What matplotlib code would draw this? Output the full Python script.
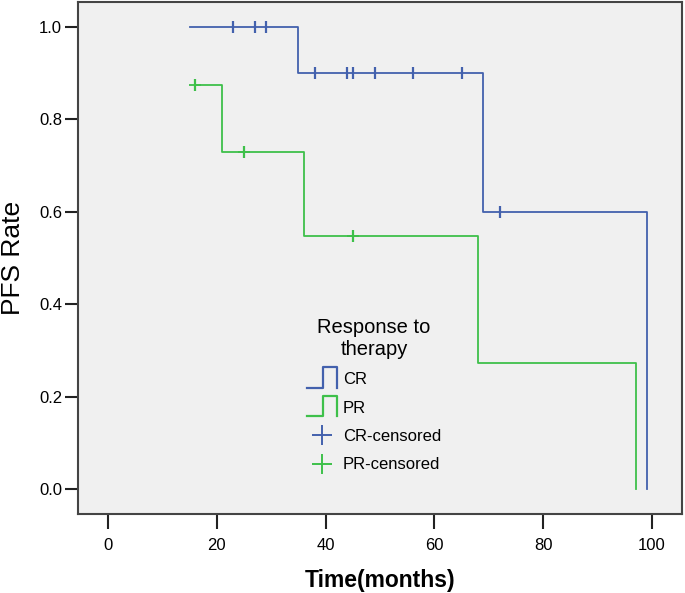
import matplotlib
matplotlib.use("Agg")
import matplotlib.pyplot as plt
from matplotlib.lines import Line2D
from matplotlib.legend_handler import HandlerBase

plt.rcParams['font.family'] = ['Liberation Sans', 'DejaVu Sans']

# Kaplan-Meier step data (time, survival)
cr_times = [15, 35, 35, 69, 69, 99, 99]
cr_surv = [1.0, 1.0, 0.9, 0.9, 0.6, 0.6, 0.0]
cr_cens_t = [23, 27, 29, 38, 44, 45, 49, 56, 65, 72]
cr_cens_s = [1.0, 1.0, 1.0, 0.9, 0.9, 0.9, 0.9, 0.9, 0.9, 0.6]

pr_times = [16, 21, 21, 36, 36, 68, 68, 97, 97]
pr_surv = [0.875, 0.875, 0.729, 0.729, 0.547, 0.547, 0.273, 0.273, 0.0]
pr_cens_t = [16, 25, 45]
pr_cens_s = [0.875, 0.729, 0.547]

x_ticks = [0, 20, 40, 60, 80, 100]
y_ticks = [0.0, 0.2, 0.4, 0.6, 0.8, 1.0]

BLUE = '#4361ad'
GREEN = '#3ec04a'

fig = plt.figure(figsize=(6.85, 5.93), dpi=100)
ax = fig.add_axes([78/685, 1 - 514/593, (682 - 78)/685, (514 - 2)/593])
ax.set_facecolor('#f0f0f0')

ax.plot(cr_times, cr_surv, color=BLUE, lw=1.3)
ax.plot(pr_times, pr_surv, color=GREEN, lw=1.3)
ax.plot(cr_cens_t, cr_cens_s, ls='none', marker='|', ms=9, mew=1.6, color=BLUE)
ax.plot(pr_cens_t, pr_cens_s, ls='none', marker='|', ms=9, mew=1.6, color=GREEN)
ax.plot(pr_cens_t, pr_cens_s, ls='none', marker='_', ms=9, mew=1.3, color=GREEN)

ax.set_xlim(-5.5, 105.5)
ax.set_ylim(-0.054, 1.054)
ax.set_xticks(x_ticks)
ax.set_xticklabels([str(v) for v in x_ticks])
ax.set_yticks(y_ticks)
ax.set_yticklabels([f"{v:.1f}" for v in y_ticks])
ax.tick_params(axis='y', direction='out', length=9.5, width=1.5, labelsize=12, color='#222222', pad=2)
ax.tick_params(axis='x', direction='out', length=11, width=1.5, labelsize=12, color='#222222', pad=6)
for s in ax.spines.values():
    s.set_color('#444444')
    s.set_linewidth(1.5)

ax.set_xlabel('Time(months)', fontsize=16.5, fontweight='bold', labelpad=12)
ax.set_ylabel('PFS Rate', fontsize=19, labelpad=10)


class StepHandler(HandlerBase):
    def __init__(self, color):
        super().__init__()
        self.color = color

    def create_artists(self, legend, orig_handle, xdescent, ydescent, width, height, fontsize, trans):
        x0 = -xdescent
        yc = -ydescent + 0.5 * height
        y0 = yc - 6.5
        y1 = yc + 8.0
        xs = [x0, x0 + 0.53 * width, x0 + 0.53 * width, x0 + width, x0 + width]
        ys = [y0, y0, y1, y1, y0]
        ln = Line2D(xs, ys, color=self.color, lw=1.6, transform=trans)
        return [ln]


h_cr = Line2D([], [], color=BLUE)
h_pr = Line2D([], [], color=GREEN)
h_crc = Line2D([], [], ls='none', marker='+', ms=15, mew=1.4, color=BLUE)
h_prc = Line2D([], [], ls='none', marker='+', ms=15, mew=1.4, color=GREEN)

leg = ax.legend([h_cr, h_pr, h_crc, h_prc], ['CR', 'PR', 'CR-censored', 'PR-censored'],
                handler_map={h_cr: StepHandler(BLUE), h_pr: StepHandler(GREEN)},
                title='Response to\ntherapy', title_fontsize=14.5, fontsize=12,
                frameon=False, loc='upper left',
                bbox_to_anchor=((307 - 78)/604, 1 - (318 - 2)/512),
                bbox_transform=ax.transAxes, handlelength=1.8, handletextpad=0.36,
                labelspacing=0.8, borderpad=0.0, borderaxespad=0.0)
leg._legend_box.align = 'center'
leg.get_title().set_multialignment('center')

fig.savefig('out.png', dpi=100, facecolor='white')
